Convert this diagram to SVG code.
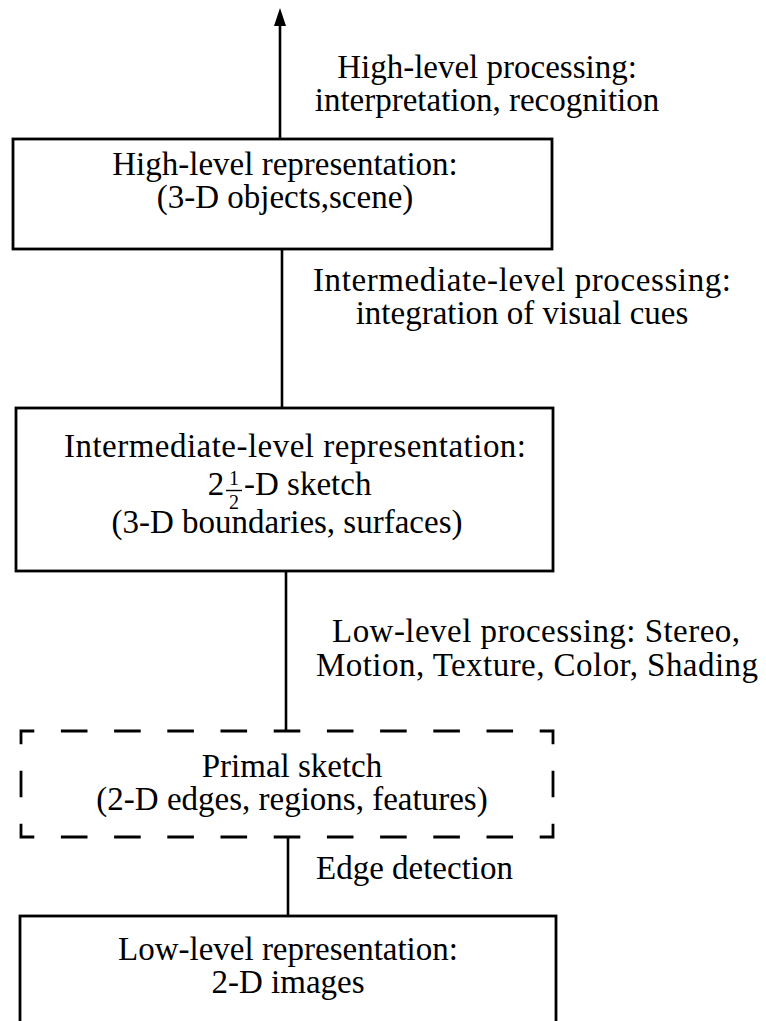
<svg xmlns="http://www.w3.org/2000/svg" width="766" height="1021" viewBox="0 0 766 1021">
<style>
  .box { fill: none; stroke: #000; stroke-width: 2.8; stroke-linejoin: miter; }
  .conn { fill: none; stroke: #000; stroke-width: 2.6; }
  .t { font-family: "Liberation Serif", "Times New Roman", serif; font-size: 33px; fill: #000; text-anchor: middle; }
  .s { font-family: "Liberation Serif", "Times New Roman", serif; font-size: 20px; fill: #000; text-anchor: middle; }
</style>
<defs>
  <marker id="arrowUp" viewBox="-6 -6 18 12" refX="0" refY="0" markerWidth="18" markerHeight="12" markerUnits="userSpaceOnUse" orient="auto">
    <path d="M-6,-6 L12,0 L-6,6 Z" fill="#000"/>
  </marker>
</defs>
<rect width="766" height="1021" fill="#fff"/>

<g id="connectors">
  <line class="conn" x1="280" y1="139" x2="280" y2="20" marker-end="url(#arrowUp)"/>
  <line class="conn" x1="282" y1="249" x2="282" y2="408"/>
  <line class="conn" x1="286" y1="571" x2="286" y2="731"/>
  <line class="conn" x1="288" y1="838" x2="288" y2="916"/>
</g>

<g id="label-high-processing">
  <text class="t" x="487" y="78">High-level processing:</text>
  <text class="t" x="487" y="111">interpretation, recognition</text>
</g>

<g id="node-high">
  <rect class="box" x="13" y="139" width="539" height="110"/>
  <text class="t" x="285" y="175">High-level representation:</text>
  <text class="t" x="285" y="208">(3-D objects,scene)</text>
</g>

<g id="label-intermediate-processing">
  <text class="t" x="522" y="291" textLength="418">Intermediate-level processing:</text>
  <text class="t" x="522" y="324">integration of visual cues</text>
</g>

<g id="node-intermediate">
  <rect class="box" x="16" y="408" width="537" height="163"/>
  <text class="t" x="295" y="457" textLength="462">Intermediate-level representation:</text>
  <text class="t" x="216" y="495">2</text>
  <text class="s" x="234" y="485">1</text>
  <line x1="226" y1="490.5" x2="242" y2="490.5" stroke="#000" stroke-width="1.4"/>
  <text class="s" x="234" y="509">2</text>
  <text class="t" x="244" y="495" style="text-anchor:start">-D sketch</text>
  <text class="t" x="287" y="533">(3-D boundaries, surfaces)</text>
</g>

<g id="label-low-processing">
  <text class="t" x="536" y="642" textLength="408">Low-level processing: Stereo,</text>
  <text class="t" x="537" y="676" textLength="442">Motion, Texture, Color, Shading</text>
</g>

<g id="node-primal">
  <path class="box" style="stroke-linecap:butt" d="M21,744.25 V731 H34.3 M539.7,731 H553 V744.25 M553,823.75 V837 H539.7 M34.3,837 H21 V823.75
    M60.9,731 H87.5 M114.1,731 H140.7 M167.3,731 H193.9 M220.5,731 H247.1 M273.7,731 H300.3 M326.9,731 H353.5 M380.1,731 H406.7 M433.3,731 H459.9 M486.5,731 H513.1
    M60.9,837 H87.5 M114.1,837 H140.7 M167.3,837 H193.9 M220.5,837 H247.1 M273.7,837 H300.3 M326.9,837 H353.5 M380.1,837 H406.7 M433.3,837 H459.9 M486.5,837 H513.1
    M21,770.75 V797.25 M553,770.75 V797.25"/>
  <text class="t" x="292" y="777">Primal sketch</text>
  <text class="t" x="292" y="810">(2-D edges, regions, features)</text>
</g>

<g id="label-edge">
  <text class="t" x="316" y="879" style="text-anchor:start">Edge detection</text>
</g>

<g id="node-low">
  <rect class="box" x="20" y="916" width="536" height="130"/>
  <text class="t" x="288" y="960">Low-level representation:</text>
  <text class="t" x="288" y="993">2-D images</text>
</g>
</svg>
